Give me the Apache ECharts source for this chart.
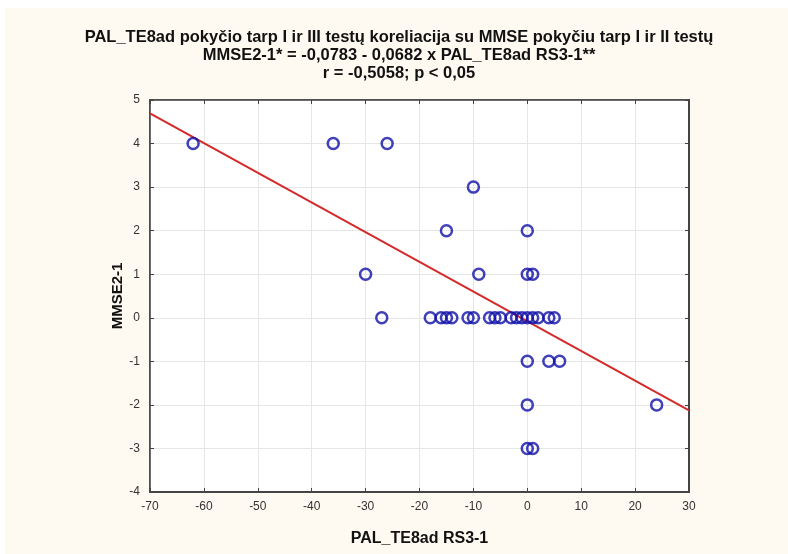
<!DOCTYPE html>
<html>
<head>
<meta charset="utf-8">
<script src="https://cdn.jsdelivr.net/npm/echarts@6/dist/echarts.min.js"></script>
<style>
html,body{margin:0;padding:0;background:#fff;}
#wrap{position:absolute;left:0;top:0;width:788px;height:554px;background:#fff;}
#chart{position:absolute;left:5px;top:8px;width:783px;height:546px;background:#fef9f1;}
</style>
</head>
<body>
<div id="wrap"><div id="chart"></div></div>
<script>
// Data
const titleLines = [
  "PAL_TE8ad pokyčio tarp I ir III testų koreliacija su MMSE pokyčiu tarp I ir II testų",
  "MMSE2-1* = -0,0783 - 0,0682 x PAL_TE8ad RS3-1**",
  "r = -0,5058; p < 0,05"
];
const xName = "PAL_TE8ad RS3-1";
const yName = "MMSE2-1";
const xValues = [-62, -36, -26, -10, -15, 0, -30, -9, 0, 1,
  -27, -18, -16, -15, -14, -11, -10, -7, -6, -5, -3, -2, -1, 0, 1, 2, 4, 5,
  0, 4, 6, 0, 24, 0, 1];
const yValues = [4, 4, 4, 3, 2, 2, 1, 1, 1, 1,
  0, 0, 0, 0, 0, 0, 0, 0, 0, 0, 0, 0, 0, 0, 0, 0, 0, 0,
  -1, -1, -1, -2, -2, -3, -3];
const fitIntercept = -0.0783;
const fitSlope = -0.0682;
const xRange = [-70, 30];
const yRange = [-4, 5];

const points = xValues.map((x, i) => [x, yValues[i]]);
const fitLine = xRange.map(x => [x, fitIntercept + fitSlope * x]);

const chart = echarts.init(document.getElementById('chart'), null, {renderer: 'canvas'});
const FONT = 'Liberation Sans, Arial, sans-serif';
const tickLabel = {color: '#333', fontSize: 12, fontFamily: FONT};
const gridLine = {show: true, lineStyle: {color: '#e6e6e6', width: 1}};
chart.setOption({
  backgroundColor: '#fef9f1',
  animation: false,
  title: {
    text: titleLines.join('\n'),
    left: 389, top: 15, textAlign: 'center',
    textStyle: {fontSize: 16.5, fontWeight: 'bold', color: '#111', lineHeight: 18,
      fontFamily: FONT}
  },
  grid: {left: 145, top: 92, right: 99, bottom: 62, show: true,
    backgroundColor: '#fff', borderColor: '#444', borderWidth: 1.5},
  xAxis: [{
    type: 'value', min: xRange[0], max: xRange[1], interval: 10, position: 'bottom',
    name: xName, nameLocation: 'middle', nameGap: 39, nameMoveOverlap: false,
    nameTextStyle: {fontSize: 16, fontWeight: 'bold', color: '#111', fontFamily: FONT},
    axisLine: {show: true, onZero: false, lineStyle: {color: '#444', width: 2}},
    axisTick: {show: true, inside: true, length: 4, lineStyle: {color: '#444'}},
    axisLabel: Object.assign({margin: 9}, tickLabel),
    splitLine: gridLine
  }, {
    type: 'value', min: xRange[0], max: xRange[1], interval: 10, position: 'top',
    axisLine: {show: true, onZero: false, lineStyle: {color: '#444', width: 1.5}},
    axisTick: {show: true, inside: true, length: 4, lineStyle: {color: '#444'}},
    axisLabel: {show: false}, splitLine: {show: false}
  }],
  yAxis: [{
    type: 'value', min: yRange[0], max: yRange[1], interval: 1, position: 'left',
    name: yName, nameLocation: 'middle', nameGap: 25, nameRotate: 90, nameMoveOverlap: false,
    nameTextStyle: {fontSize: 15, fontWeight: 'bold', color: '#111', fontFamily: FONT},
    axisLine: {show: true, onZero: false, lineStyle: {color: '#444', width: 1.5}},
    axisTick: {show: true, inside: true, length: 4, lineStyle: {color: '#444'}},
    axisLabel: Object.assign({margin: 10}, tickLabel),
    splitLine: gridLine
  }, {
    type: 'value', min: yRange[0], max: yRange[1], interval: 1, position: 'right',
    axisLine: {show: true, onZero: false, lineStyle: {color: '#444', width: 2}},
    axisTick: {show: true, inside: true, length: 4, lineStyle: {color: '#444'}},
    axisLabel: {show: false}, splitLine: {show: false}
  }],
  series: [{
    type: 'line', data: fitLine, symbol: 'none', xAxisIndex: 0, yAxisIndex: 0,
    lineStyle: {color: '#d42a2a', width: 2}, z: 3, silent: true
  }, {
    type: 'scatter', data: points, xAxisIndex: 0, yAxisIndex: 0,
    symbol: 'circle', symbolSize: 11,
    itemStyle: {color: 'rgba(0,0,0,0)', borderColor: '#1010a8', borderWidth: 2.5},
    z: 4
  }]
});
</script>
</body>
</html>
